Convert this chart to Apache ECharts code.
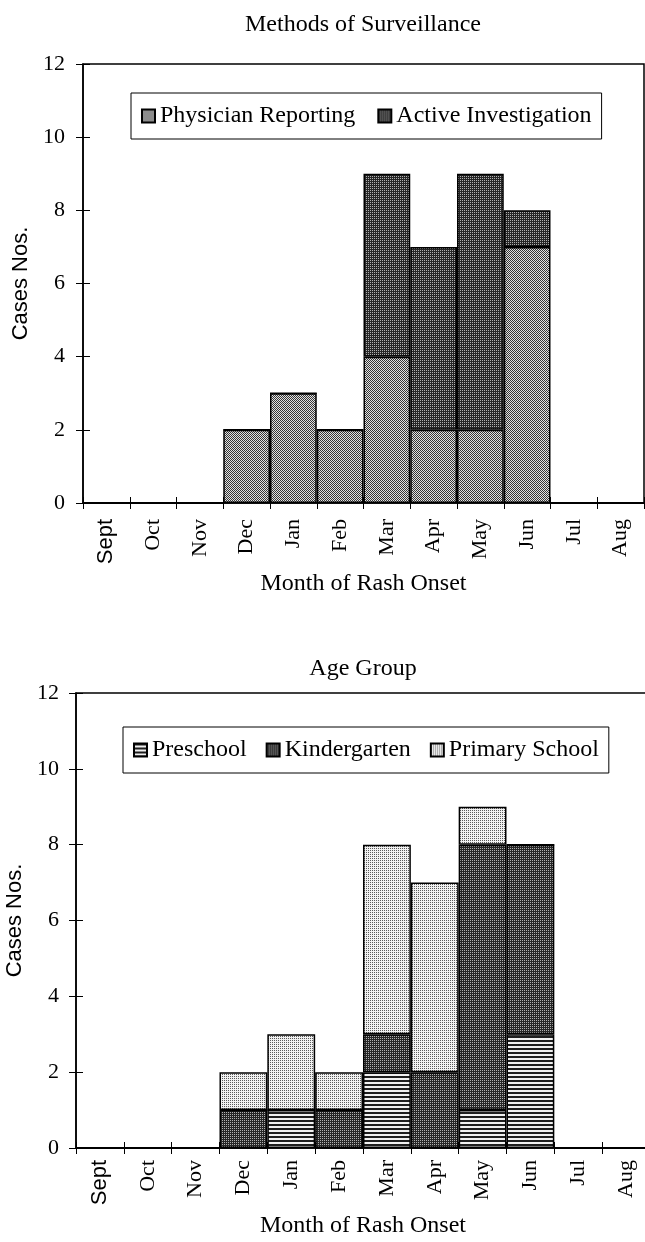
<!DOCTYPE html>
<html>
<head>
<meta charset="utf-8">
<script src="https://cdn.jsdelivr.net/npm/echarts@6/dist/echarts.min.js"></script>
<style>
html,body{margin:0;padding:0;background:#fff;}
#c{width:645px;height:1242px;}
</style>
</head>
<body>
<div id="c"></div>
<script>
// ---- data ----
const months = ['Sept','Oct','Nov','Dec','Jan','Feb','Mar','Apr','May','Jun','Jul','Aug'];
const yTicks = [0, 2, 4, 6, 8, 10, 12];
const physicianReporting = [0,0,0,2,3,2,4,2,2,7,0,0];
const activeInvestigation = [0,0,0,0,0,0,5,5,7,1,0,0];
const preschool    = [0,0,0,0,1,0,2,0,1,3,0,0];
const kindergarten = [0,0,0,1,0,1,1,2,7,5,0,0];
const primarySchool= [0,0,0,1,2,1,5,5,1,0,0,0];

// ---- patterns ----
function pattern(size, fn){
  const c = document.createElement('canvas');
  c.width = size; c.height = size;
  const g = c.getContext('2d');
  for (let y=0;y<size;y++) for (let x=0;x<size;x++){
    g.fillStyle = fn(x,y); g.fillRect(x,y,1,1);
  }
  return {image: c, repeat: 'repeat'};
}
const patMid   = pattern(4, (x,y)=> (x+y)%2===0 ? '#363636' : '#e2e2e2');
const patDark  = pattern(4, (x,y)=> (x%2===0 && y%2===0) ? '#b0b0b0' : '#262626');
const patLight = pattern(4, (x,y)=> (x%2===0 && y%2===0) ? '#5a5a5a' : '#f2f2f2');
const patStripe= pattern(4, (x,y)=> (y%4<2) ? '#1e1e1e' : '#f0f0f0');

const serif = '"Liberation Serif", "Times New Roman", serif';
const sans  = '"Liberation Sans", Arial, sans-serif';

const gridRects = [
  {left: 83, top: 64, width: 561, height: 439},
  {left: 76, top: 693, width: 574, height: 455}
];

function xAxisCfg(gridIndex, margin, nameGap){
  return {
    type: 'category', gridIndex, data: months,
    name: 'Month of Rash Onset', nameLocation: 'middle', nameGap,
    nameTextStyle: {fontFamily: serif, fontSize: 24, color: '#000'},
    axisLine: {lineStyle: {color: '#000', width: 1.5}},
    axisTick: {show: true, alignWithLabel: false, length: 6, lineStyle: {color: '#000', width: 1}},
    axisLabel: {
      rotate: 90, margin, interval: 0, color: '#000',
      fontFamily: serif, fontSize: 22,
      formatter: v => v === 'Sept' ? '{s|Sept}' : v,
      rich: {s: {fontFamily: sans, fontSize: 22, color: '#000'}}
    },
    splitLine: {show: false}
  };
}
function xTickInside(gridIndex){
  return {
    type: 'category', gridIndex, data: months,
    axisLine: {show: false},
    axisTick: {show: true, inside: true, length: 6, lineStyle: {color: '#000', width: 1}},
    axisLabel: {show: false}, splitLine: {show: false}
  };
}
function yAxisCfg(gridIndex, nameGap, margin){
  return {
    type: 'value', gridIndex, min: yTicks[0], max: yTicks[yTicks.length-1], interval: 2,
    name: 'Cases Nos.', nameLocation: 'middle', nameGap, nameRotate: 90,
    nameTextStyle: {fontFamily: sans, fontSize: 22, color: '#000'},
    axisLine: {show: true, lineStyle: {color: '#000', width: 1.5}},
    axisTick: {show: true, length: 7, lineStyle: {color: '#000', width: 1}},
    axisLabel: {color: '#000', fontFamily: serif, fontSize: 22, margin},
    splitLine: {show: false}
  };
}
function yTickInside(gridIndex){
  return {
    type: 'value', gridIndex, min: yTicks[0], max: yTicks[yTicks.length-1], interval: 2,
    axisLine: {show: false},
    axisTick: {show: true, inside: true, length: 7, lineStyle: {color: '#000', width: 1}},
    axisLabel: {show: false}, splitLine: {show: false}
  };
}
function barSeries(name, data, color, xi){
  return {
    type: 'bar', name, data, stack: 's' + xi, xAxisIndex: xi, yAxisIndex: xi,
    barCategoryGap: 0, barGap: 0,
    itemStyle: {color, borderColor: '#000', borderWidth: 1.5},
    emphasis: {disabled: true}
  };
}
function legendCfg(left, top, names, gap){
  return {
    left, top, orient: 'horizontal', data: names, icon: 'rect',
    borderColor: '#000', borderWidth: 1, padding: [11, 10, 11, 10],
    itemWidth: 13, itemHeight: 13, itemGap: gap,
    textStyle: {fontFamily: serif, fontSize: 24, color: '#000'},
    selectedMode: false
  };
}
const gridBase = {containLabel: false, outerBoundsMode: 'none'};

const chart = echarts.init(document.getElementById('c'), null, {renderer: 'canvas'});
chart.setOption({
  animation: false,
  backgroundColor: '#fff',
  grid: [
    Object.assign({show: true, borderColor: '#000', borderWidth: 1.5, backgroundColor: 'transparent'}, gridBase, gridRects[0]),
    Object.assign({show: true, borderColor: '#000', borderWidth: 1.5, backgroundColor: 'transparent'}, gridBase, gridRects[1]),
    Object.assign({show: false}, gridBase, gridRects[0]),
    Object.assign({show: false}, gridBase, gridRects[1])
  ],
  graphic: [
    {type: 'text', x: 363, y: 25, style: {text: 'Methods of Surveillance', font: '24px ' + serif, fill: '#000', align: 'center', verticalAlign: 'middle'}},
    {type: 'text', x: 363, y: 669, style: {text: 'Age Group', font: '24px ' + serif, fill: '#000', align: 'center', verticalAlign: 'middle'}}
  ],
  legend: [
    legendCfg(131, 93, ['Physician Reporting', 'Active Investigation'], 22),
    legendCfg(123, 727, ['Preschool', 'Kindergarten', 'Primary School'], 19)
  ],
  xAxis: [xAxisCfg(0, 16, 69), xAxisCfg(1, 12, 66), xTickInside(2), xTickInside(3)],
  yAxis: [yAxisCfg(0, 49, 18), yAxisCfg(1, 46, 17), yTickInside(2), yTickInside(3)],
  series: [
    barSeries('Physician Reporting', physicianReporting, patMid, 0),
    barSeries('Active Investigation', activeInvestigation, patDark, 0),
    barSeries('Preschool', preschool, patStripe, 1),
    barSeries('Kindergarten', kindergarten, patDark, 1),
    barSeries('Primary School', primarySchool, patLight, 1)
  ]
});
</script>
</body>
</html>
